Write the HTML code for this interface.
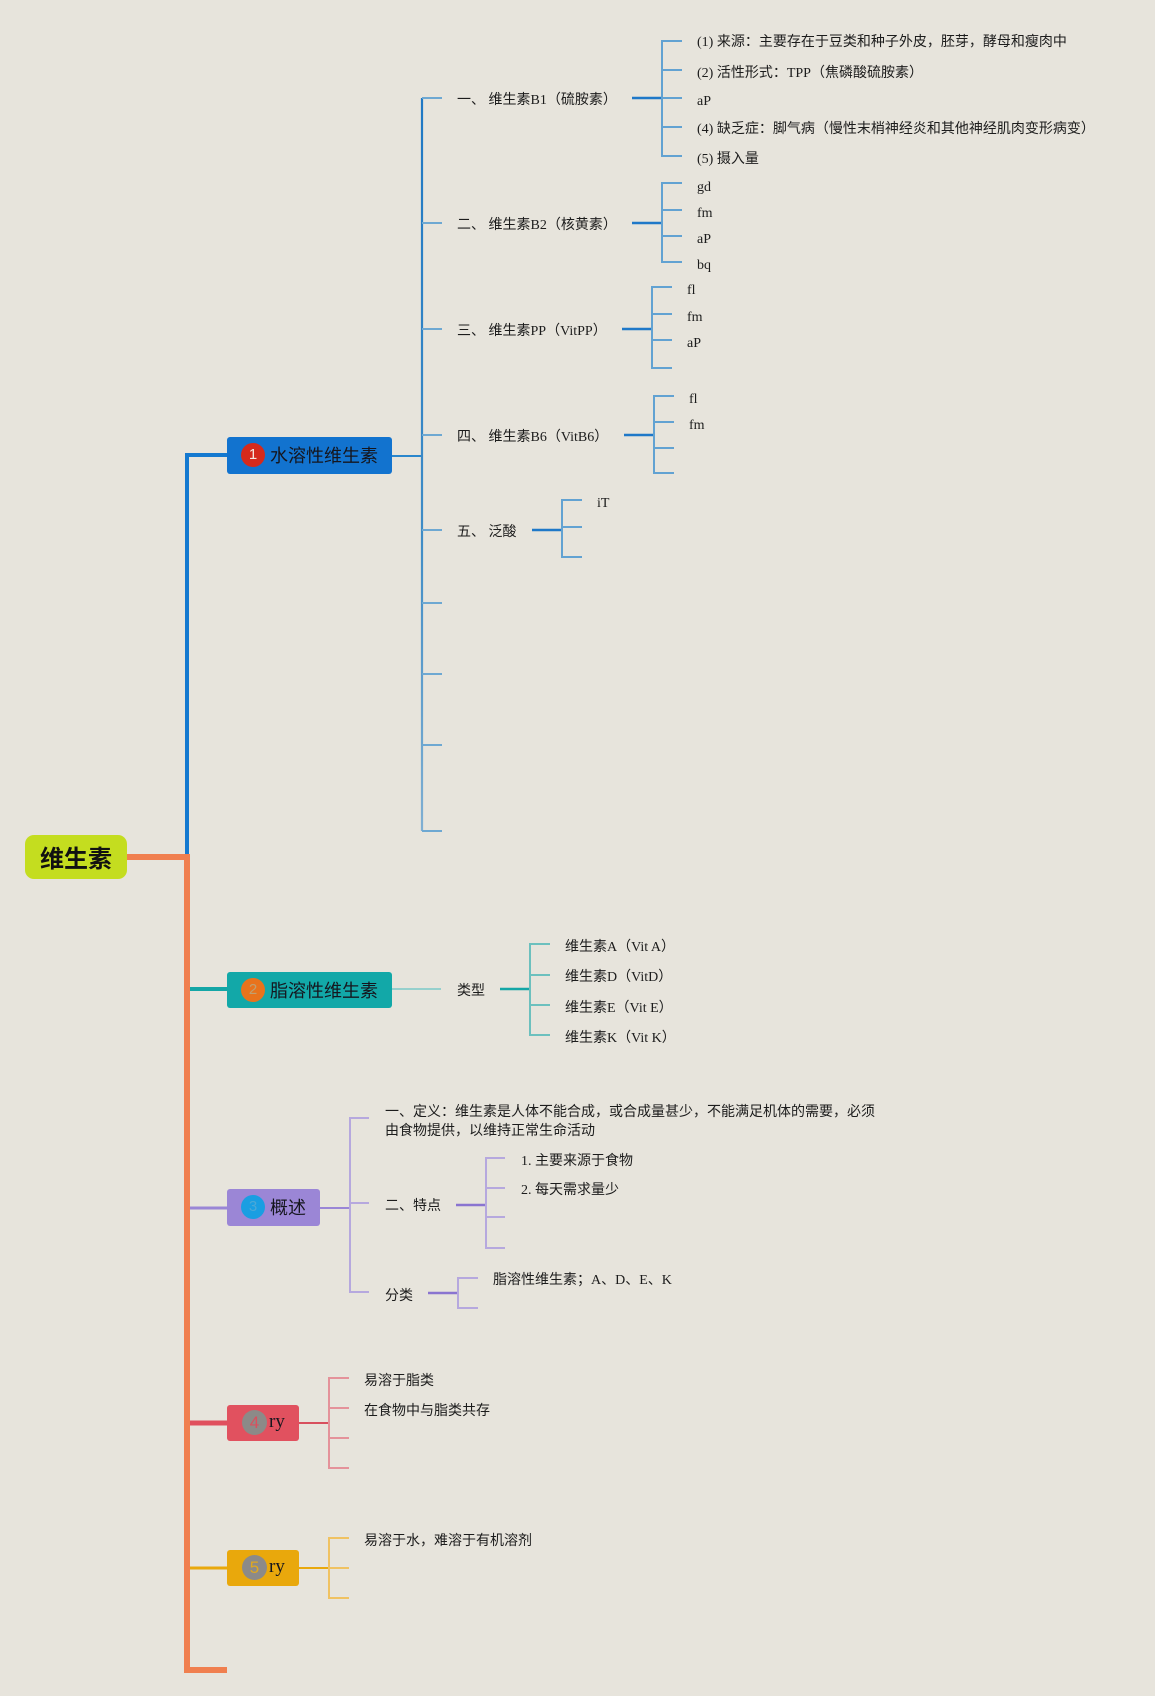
<!DOCTYPE html>
<html><head><meta charset="utf-8">
<style>
html,body{margin:0;padding:0;}
body{width:1155px;height:1696px;background:#e7e4dc;position:relative;overflow:hidden;font-family:"Liberation Serif","Noto Sans CJK SC",serif;}
svg{position:absolute;left:0;top:0;}
.t{position:absolute;white-space:nowrap;font-size:14px;line-height:20px;height:20px;color:#1c1c1c;margin-top:2px;}
.u{margin-top:3px;}
.node{position:absolute;border-radius:3px;box-sizing:border-box;}
.nt{position:absolute;left:43px;top:0;font-family:"Noto Sans CJK SC","Liberation Sans",sans-serif;font-size:18px;color:#15161e;white-space:nowrap;}
.badge{position:absolute;left:14px;width:24px;height:24px;border-radius:50%;text-align:center;line-height:24px;font-family:"Liberation Sans",sans-serif;font-size:15px;}
</style></head><body>
<svg width="1155" height="1696" viewBox="0 0 1155 1696" fill="none">
<defs>
<linearGradient id="bg1" gradientUnits="userSpaceOnUse" x1="0" y1="98" x2="0" y2="831">
<stop offset="0" stop-color="#1f78c4"/><stop offset="0.6" stop-color="#3f8cc6"/><stop offset="1" stop-color="#80afd2"/>
</linearGradient>
</defs>
<path d="M187 857 V455 H227" stroke="#1479d0" stroke-width="4"/>
<path d="M127 857 H187 V1670 H227" stroke="#f07f4f" stroke-width="6"/>
<path d="M190 989 H227" stroke="#14a6a6" stroke-width="4"/>
<path d="M190 1208 H227" stroke="#9a86d6" stroke-width="3"/>
<path d="M190 1423 H227" stroke="#e0505e" stroke-width="5"/>
<path d="M190 1568 H227" stroke="#e9a80c" stroke-width="3"/>

<path d="M392 456 H422" stroke="#2a86cc" stroke-width="2"/>
<path d="M422 98 V831" stroke="url(#bg1)" stroke-width="2.2"/>
<g stroke="#6ea8d2" stroke-width="2">
<path d="M422 98 H442 M422 223 H442 M422 329 H442 M422 435 H442 M422 530 H442 M422 603 H442 M422 674 H442 M422 745 H442 M422 831 H442"/>
</g>
<g stroke="#1f78c8" stroke-width="2.5">
<path d="M632 98 H662 M632 223 H662 M622 329 H652 M624 435 H654 M532 530 H562"/>
</g>
<g stroke="#62a2d2" stroke-width="2">
<path d="M682 41 H662 V156 H682 M662 70 H682 M662 98 H682 M662 127 H682"/>
<path d="M682 183 H662 V262 H682 M662 210 H682 M662 236 H682"/>
<path d="M672 287 H652 V368 H672 M652 314 H672 M652 340 H672"/>
<path d="M674 396 H654 V473 H674 M654 422 H674 M654 448 H674"/>
<path d="M582 500 H562 V557 H582 M562 527 H582"/>
</g>

<path d="M392 989 H441" stroke="#7ccac8" stroke-width="1.6"/>
<path d="M500 989 H530" stroke="#14a6a6" stroke-width="2.5"/>
<path d="M550 944 H530 V1035 H550 M530 975 H550 M530 1005 H550" stroke="#6cc0be" stroke-width="2"/>

<path d="M320 1208 H350" stroke="#9a86d6" stroke-width="2"/>
<path d="M369 1118 H350 V1292 H369 M350 1203 H369" stroke="#b6a8de" stroke-width="2"/>
<path d="M456 1205 H486" stroke="#8a74d0" stroke-width="2.5"/>
<path d="M505 1158 H486 V1248 H505 M486 1188 H505 M486 1217 H505" stroke="#b6a8de" stroke-width="2"/>
<path d="M428 1293 H458" stroke="#8a74d0" stroke-width="2.5"/>
<path d="M478 1278 H458 V1308 H478" stroke="#b6a8de" stroke-width="2"/>

<path d="M299 1423 H329" stroke="#d8505e" stroke-width="2"/>
<path d="M349 1378 H329 V1468 H349 M329 1408 H349 M329 1438 H349" stroke="#e4929a" stroke-width="2"/>

<path d="M299 1568 H329" stroke="#e9a80c" stroke-width="2"/>
<path d="M349 1538 H329 V1598 H349 M329 1568 H349" stroke="#f0c262" stroke-width="2"/>
</svg>

<div class="node" style="left:25px;top:835px;width:102px;height:44px;background:#c4dd1f;border-radius:9px;"></div>
<div style="position:absolute;left:25px;top:835px;width:102px;height:44px;line-height:44px;text-align:center;font-family:'Noto Sans CJK SC',sans-serif;font-weight:bold;font-size:24px;color:#111;">维生素</div>

<div class="node" style="left:227px;top:437px;width:165px;height:37px;background:#1273cf;">
<div class="badge" style="top:6px;background:#d52a1c;color:#f4e8e0;">1</div>
<div class="nt" style="line-height:37px;">水溶性维生素</div>
</div>
<div class="node" style="left:227px;top:972px;width:165px;height:36px;background:#12a8a8;">
<div class="badge" style="top:6px;background:#e8731c;color:#c0a070;">2</div>
<div class="nt" style="line-height:36px;">脂溶性维生素</div>
</div>
<div class="node" style="left:227px;top:1189px;width:93px;height:37px;background:#9b86d6;">
<div class="badge" style="top:6px;background:#1a9ee2;color:#4aa8d8;">3</div>
<div class="nt" style="line-height:37px;">概述</div>
</div>
<div class="node" style="left:227px;top:1405px;width:72px;height:36px;background:#e1515f;">
<div class="badge" style="top:5px;left:15px;width:25px;height:25px;line-height:25px;background:#8c8a88;color:#d8505e;font-size:17px;">4</div>
<div class="nt" style="left:42px;line-height:34px;font-family:'Liberation Serif',serif;font-size:19px;">ry</div>
</div>
<div class="node" style="left:227px;top:1550px;width:72px;height:36px;background:#e9a80c;">
<div class="badge" style="top:5px;left:15px;width:25px;height:25px;line-height:25px;background:#8c8a88;color:#e0a820;font-size:17px;">5</div>
<div class="nt" style="left:42px;line-height:34px;font-family:'Liberation Serif',serif;font-size:19px;">ry</div>
</div>

<div class="t u" style="left:457px;top:88px;">一、 维生素B1（硫胺素）</div>
<div class="t u" style="left:457px;top:213px;">二、 维生素B2（核黄素）</div>
<div class="t u" style="left:457px;top:319px;">三、 维生素PP（VitPP）</div>
<div class="t u" style="left:457px;top:425px;">四、 维生素B6（VitB6）</div>
<div class="t u" style="left:457px;top:520px;">五、 泛酸</div>

<div class="t u" style="left:697px;top:30px;">(1) 来源：主要存在于豆类和种子外皮，胚芽，酵母和瘦肉中</div>
<div class="t u" style="left:697px;top:61px;">(2) 活性形式：TPP（焦磷酸硫胺素）</div>
<div class="t u" style="left:697px;top:89px;">aP</div>
<div class="t u" style="left:697px;top:117px;">(4) 缺乏症：脚气病（慢性末梢神经炎和其他神经肌肉变形病变）</div>
<div class="t u" style="left:697px;top:147px;">(5) 摄入量</div>

<div class="t u" style="left:697px;top:175px;">gd</div>
<div class="t u" style="left:697px;top:201px;">fm</div>
<div class="t u" style="left:697px;top:227px;">aP</div>
<div class="t u" style="left:697px;top:253px;">bq</div>

<div class="t u" style="left:687px;top:278px;">fl</div>
<div class="t u" style="left:687px;top:305px;">fm</div>
<div class="t u" style="left:687px;top:331px;">aP</div>

<div class="t u" style="left:689px;top:387px;">fl</div>
<div class="t u" style="left:689px;top:413px;">fm</div>

<div class="t u" style="left:597px;top:491px;">iT</div>

<div class="t" style="left:457px;top:980px;">类型</div>
<div class="t" style="left:565px;top:936px;">维生素A（Vit A）</div>
<div class="t" style="left:565px;top:966px;">维生素D（VitD）</div>
<div class="t" style="left:565px;top:997px;">维生素E（Vit E）</div>
<div class="t" style="left:565px;top:1027px;">维生素K（Vit K）</div>

<div class="t" style="left:385px;top:1101px;">一、定义：维生素是人体不能合成，或合成量甚少，不能满足机体的需要，必须</div>
<div class="t" style="left:385px;top:1120px;">由食物提供，以维持正常生命活动</div>
<div class="t" style="left:385px;top:1195px;">二、特点</div>
<div class="t" style="left:521px;top:1150px;">1. 主要来源于食物</div>
<div class="t" style="left:521px;top:1179px;">2. 每天需求量少</div>
<div class="t" style="left:385px;top:1285px;">分类</div>
<div class="t" style="left:493px;top:1269px;">脂溶性维生素；A、D、E、K</div>

<div class="t" style="left:364px;top:1370px;">易溶于脂类</div>
<div class="t" style="left:364px;top:1400px;">在食物中与脂类共存</div>

<div class="t" style="left:364px;top:1530px;">易溶于水，难溶于有机溶剂</div>
</body></html>
